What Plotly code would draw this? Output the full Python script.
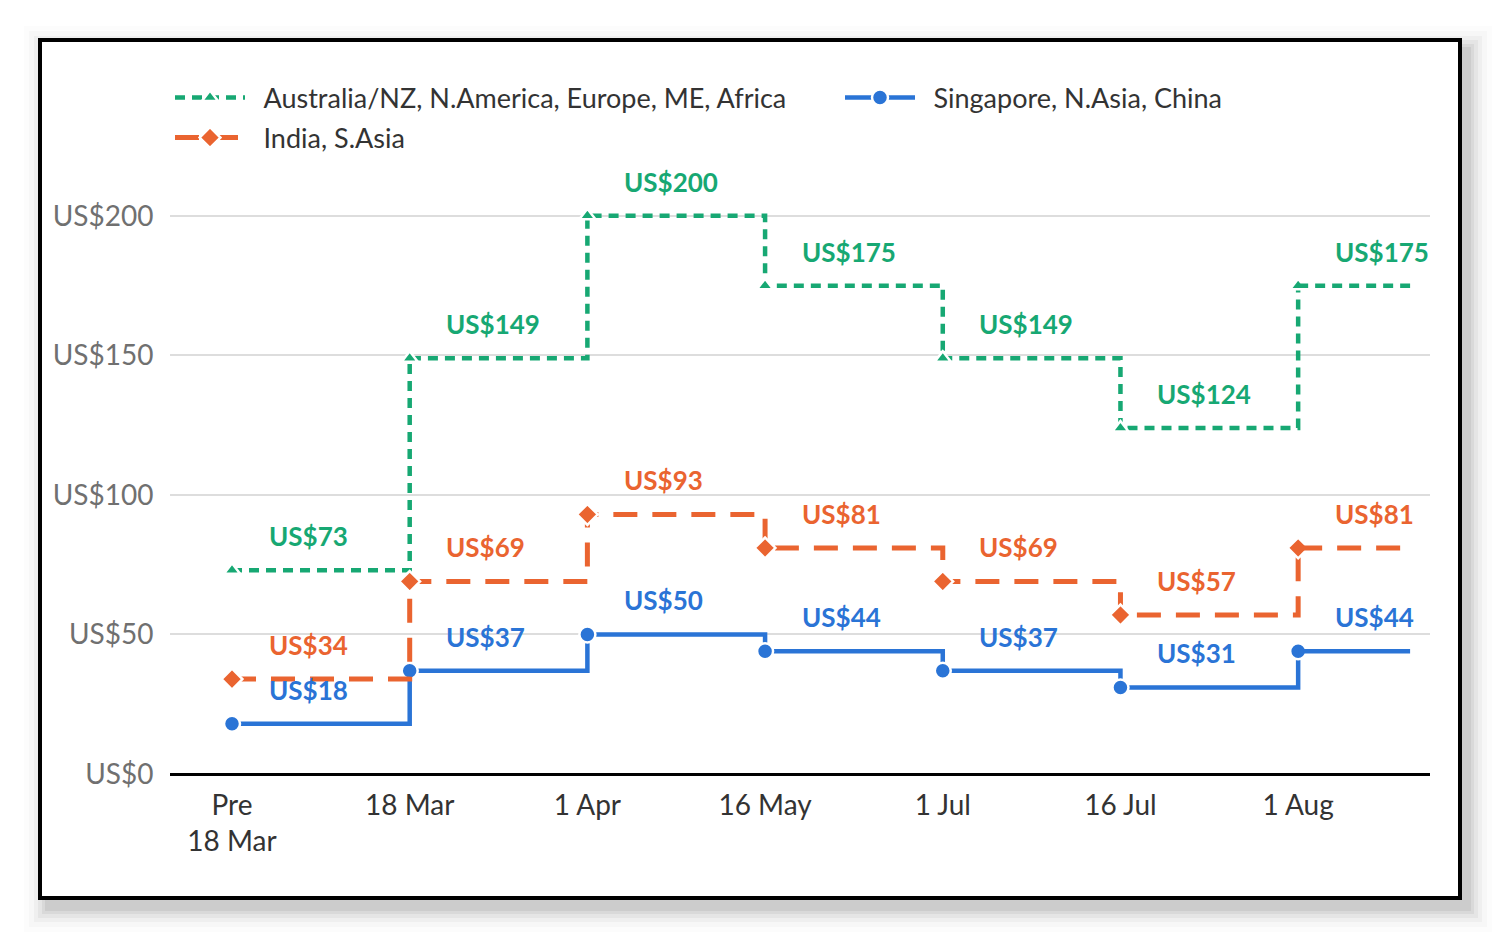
import plotly.graph_objects as go

# categories (tick labels) and step values, US$
periods = ["Pre<br>18 Mar", "18 Mar", "1 Apr", "16 May", "1 Jul", "16 Jul", "1 Aug"]
aus_eu = [73, 149, 200, 175, 149, 124, 175]
singapore = [18, 37, 50, 44, 37, 31, 44]
india = [34, 69, 93, 81, 69, 57, 81]

y_ticks = [0, 50, 100, 150, 200]
y_tick_labels = ["US$" + str(v) for v in y_ticks]

GREEN = "#17a873"
BLUE = "#2a74d6"
ORANGE = "#ea6430"

x_pos = list(range(len(periods)))
x_end = 6.63  # last step runs a bit past the final date

# the page body adds 8px, so the figure is laid out 8px up/left
W, H = 1420, 858


def add_steps(fig, values, name, color, dash, width, symbol, size, legend):
    line = dict(shape="hv", color=color, width=width, dash=dash)
    fig.add_trace(go.Scatter(
        x=x_pos, y=values, name="\u2002" + name, legend=legend,
        mode="lines+markers", line=line,
        marker=dict(symbol=symbol, size=size, color=color,
                    line=dict(color="white", width=2.5)),
        hoverinfo="skip",
    ))
    # tail of the last step, no marker
    fig.add_trace(go.Scatter(
        x=[x_pos[-1], x_end], y=[values[-1], values[-1]],
        mode="lines", line=line, showlegend=False, hoverinfo="skip",
    ))


fig = go.Figure()
add_steps(fig, aus_eu, "Australia/NZ, N.America, Europe, ME, Africa",
          GREEN, "10px,7px", 4.5, "triangle-up", 14, "legend")
add_steps(fig, singapore, "Singapore, N.Asia, China",
          BLUE, "solid", 4.5, "circle", 16, "legend2")
add_steps(fig, india, "India, S.Asia",
          ORANGE, "24px,15px", 5, "diamond", 16, "legend3")

# value labels above each step, left-aligned a little after the step start
for values, color in [(aus_eu, GREEN), (india, ORANGE), (singapore, BLUE)]:
    for i, v in enumerate(values):
        fig.add_annotation(
            x=i + 0.195, y=v, text="US$" + str(v), showarrow=False,
            xanchor="left", yshift=34,
            font=dict(family="Lato", size=26, color=color, weight="bold"),
        )

# frame with soft shadow
for k, op in [(24, 0.012), (19, 0.02), (14, 0.03), (10, 0.04), (6, 0.05), (3, 0.06)]:
    fig.add_shape(type="rect", xref="paper", yref="paper",
                  x0=(-k + 8) / W, x1=1 + (k + 8) / W,
                  y0=(-k - 10) / H, y1=1 + (k - 10) / H,
                  line=dict(width=0), fillcolor="rgba(0,0,0,%s)" % op, layer="below")
fig.add_shape(type="rect", xref="paper", yref="paper", x0=0, x1=1, y0=0, y1=1,
              line=dict(color="black", width=4), fillcolor="white", layer="below")

legend_style = dict(
    orientation="h", xanchor="left", yanchor="middle",
    font=dict(family="Lato", size=27, color="#333333"),
    itemwidth=70, bgcolor="rgba(0,0,0,0)",
)

fig.update_layout(
    width=1500, height=939,
    margin=dict(l=32, r=48, t=32, b=49),
    paper_bgcolor="white", plot_bgcolor="rgba(0,0,0,0)",
    font=dict(family="Lato", size=26, color="#333333"),
    legend=dict(x=(170 - 40) / W, y=(898 - 98) / H, **legend_style),
    legend2=dict(x=(840 - 40) / W, y=(898 - 98) / H, **legend_style),
    legend3=dict(x=(170 - 40) / W, y=(898 - 138) / H, **legend_style),
    showlegend=True,
)

fig.update_xaxes(
    domain=[130 / W, 1390 / W],
    range=[-0.349, 6.742],
    tickvals=x_pos, ticktext=periods,
    showgrid=False, zeroline=False, showline=False,
    ticks="outside", ticklen=6, tickcolor="rgba(0,0,0,0)",
    tickfont=dict(family="Lato", size=28, color="#333333"),
)
fig.update_yaxes(
    domain=[(898 - 774) / H, (898 - 174) / H],
    range=[0, 215],
    tickvals=y_ticks, ticktext=y_tick_labels,
    showgrid=True, gridcolor="#dddddd", gridwidth=2,
    zeroline=True, zerolinecolor="black", zerolinewidth=3,
    showline=False,
    ticks="outside", ticklen=10, tickcolor="rgba(0,0,0,0)",
    tickfont=dict(family="Lato", size=28, color="#707070"),
)

fig.write_html("out.html")
